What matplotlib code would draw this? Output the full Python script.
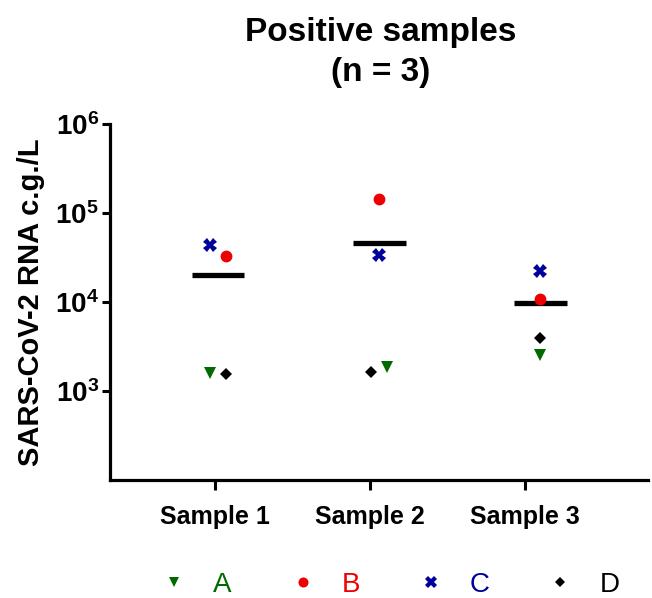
import matplotlib
matplotlib.use("Agg")
import matplotlib.pyplot as plt
import numpy as np
from matplotlib.ticker import NullLocator
from matplotlib.lines import Line2D

plt.rcParams['font.family'] = ['Liberation Sans', 'DejaVu Sans']
plt.rcParams['mathtext.fontset'] = 'custom'
plt.rcParams['mathtext.rm'] = 'Liberation Sans:bold'
plt.rcParams['mathtext.bf'] = 'Liberation Sans:bold'
plt.rcParams['mathtext.default'] = 'bf'

# datos (c.g./L)
samples = ["Sample 1", "Sample 2", "Sample 3"]
labels = ["A", "B", "C", "D"]
A = [1575, 1870, 2550]
B = [32700, 144500, 10700]
C = [44000, 34100, 22200]
D = [1545, 1640, 3980]

colors = ["#006a00", "#ee0000", "#00009a", "#000000"]
markers = ["v", "o", "X", "D"]
msizes = [9, 8.5, 10, 6.5]

# posicion de cada grupo y desplazamiento de cada punto
group_x = [0.02, 1.06, 2.10]
dx = 0.052
offsets = [[-dx, dx, 0], [dx, 0, 0], [-dx, 0, 0], [dx, -dx, 0]]

series = [A, B, C, D]
means = np.mean(np.array(series), axis=0)

fig = plt.figure(figsize=(6.52, 5.98), dpi=100)
ax = fig.add_axes([110/652, 1-480/598, 538/652, 356/598])

for k in range(4):
    xs = [group_x[i] + offsets[k][i] for i in range(3)]
    ax.plot(xs, series[k], linestyle='none', marker=markers[k], color=colors[k],
            markersize=msizes[k], markeredgewidth=0, zorder=3)

for i in range(3):
    ax.hlines(means[i], group_x[i]-0.17, group_x[i]+0.17, color='black',
              linewidth=3.8, zorder=2)

ax.set_yscale('log')
ax.set_ylim(1e2, 1e6)
ax.set_xlim(-0.677, 2.794)
ax.set_yticks([1e3, 1e4, 1e5, 1e6])
ax.set_yticklabels([r"$10^{3}$", r"$10^{4}$", r"$10^{5}$", r"$10^{6}$"])
ax.yaxis.set_minor_locator(NullLocator())
ax.set_xticks([0, 1, 2])
ax.set_xticklabels(samples, fontweight='bold', fontsize=18)
ax.tick_params(axis='y', labelsize=20, length=6, width=2.2, pad=2)
ax.tick_params(axis='x', length=7, width=2.2, pad=11)

for s in ['top', 'right']:
    ax.spines[s].set_visible(False)
for s in ['left', 'bottom']:
    ax.spines[s].set_linewidth(2.3)

ax.set_ylabel("SARS-CoV-2 RNA c.g./L", fontsize=21, fontweight='bold', labelpad=7)

fig.text(0.584, 0.912, "Positive samples\n(n = 3)", ha='center', va='center',
         fontsize=24, fontweight='bold', linespacing=1.35)

handles = [Line2D([], [], linestyle='none', marker=markers[k], color=colors[k],
                  markersize=msizes[k]*0.85, markeredgewidth=0) for k in range(4)]
leg = fig.legend(handles, labels, loc='center', bbox_to_anchor=(0.598, 0.022), ncol=4,
                 frameon=False, fontsize=20, labelcolor=colors, handlelength=1.0,
                 handletextpad=0.9, columnspacing=2.05)

plt.savefig("out.png", dpi=100)
